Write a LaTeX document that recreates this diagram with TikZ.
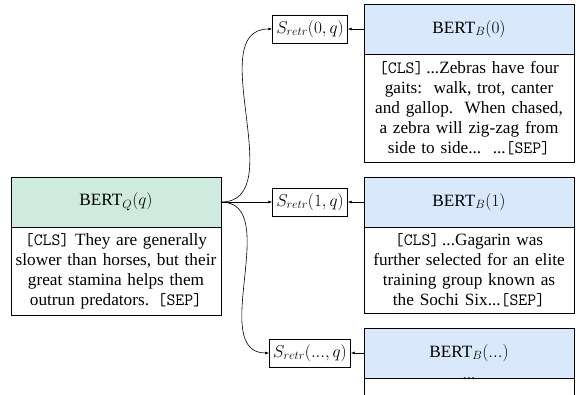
\documentclass[tikz,border=0pt]{standalone}
\usepackage{fontspec}
\setmainfont{Liberation Serif}
\usetikzlibrary{arrows.meta}
\definecolor{hgreen}{RGB}{207,234,222}
\definecolor{hblue}{RGB}{218,232,252}
\newcommand\tk[1]{\texttt{[#1]}}
\begin{document}
\begin{tikzpicture}[x=1bp,y=1bp,
  every node/.style={font=\fontsize{17.3}{20}\selectfont, inner sep=0pt, outer sep=0pt},
  hdr/.style={draw, minimum width=210bp, minimum height=50bp, line width=0.8bp},
  body/.style={draw, fill=white, text width=210bp, align=center, line width=0.8bp, anchor=north},
  score/.style={draw, fill=white, minimum height=28bp, inner xsep=4bp, line width=0.8bp, font=\fontsize{18.6}{20}\selectfont},
  conn/.style={-{Latex[length=4bp,width=3bp]}, line width=0.6bp}
]
\useasboundingbox (0,0) rectangle (576,394);
% query encoder
\node[hdr, fill=hgreen] (gh) at (116,192) {BERT$_Q(q)$};
\node[body, minimum height=88bp] (gb) at (gh.south) {\tk{CLS} They are generally\\ slower than horses, but their\\ great stamina helps them\\ outrun predators. \tk{SEP}};
% block encoders
\node[hdr, fill=hblue] (b0h) at (469,365) {BERT$_B(0)$};
\node[body, minimum height=108bp] (b0b) at (b0h.south) {\tk{CLS}\,...Zebras have four\\ gaits:\ \ walk, trot, canter\\ and gallop.\ \ When chased,\\ a zebra will zig-zag from\\ side to side...\ \ ...\tk{SEP}};
\node[hdr, fill=hblue] (b1h) at (469,192) {BERT$_B(1)$};
\node[body, minimum height=86bp] (b1b) at (b1h.south) {\tk{CLS}\,...Gagarin was\\ further selected for an elite\\ training group known as\\ the Sochi Six...\tk{SEP}};
\node[hdr, fill=hblue] (b2h) at (469,41) {BERT$_B(...)$};
\node[body, minimum height=40bp] (b2b) at (b2h.south) {...\\[18bp]\strut};
% scores
\node[score] (s0) at (310,365) {$S_{retr}(0,q)$};
\node[score] (s1) at (310,192) {$S_{retr}(1,q)$};
\node[score] (s2) at (310,41) {$S_{retr}(...,q)$};
% connectors
\draw[conn] (b0h.west) -- (s0.east);
\draw[conn] (b1h.west) -- (s1.east);
\draw[conn] (b2h.west) -- (s2.east);
\draw[conn] (gh.east) to[out=0,in=180] (s0.west);
\draw[conn] (gh.east) -- (s1.west);
\draw[conn] (gh.east) to[out=0,in=180] (s2.west);
\end{tikzpicture}
\end{document}
